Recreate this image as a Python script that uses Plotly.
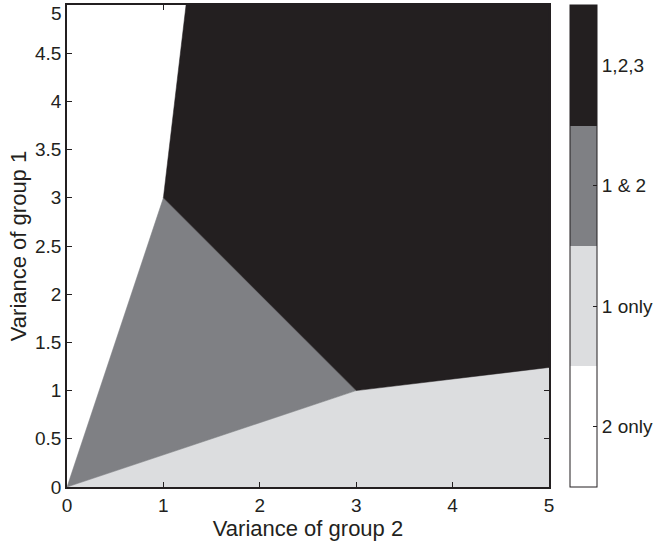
import plotly.graph_objects as go

# Region polygons (x = variance of group 2, y = variance of group 1)
white_x = [0, 1, 1.235, 0]
white_y = [0, 3, 5, 5]
lgray_x = [0, 5, 5, 3]
lgray_y = [0, 0, 1.24, 1]
mgray_x = [0, 3, 1]
mgray_y = [0, 1, 3]
black_x = [1, 3, 5, 5, 1.235]
black_y = [3, 1, 1.24, 5, 5]

labels = ["2 only", "1 only", "1 & 2", "1,2,3"]
colors = ["#ffffff", "#dcdddf", "#7f8084", "#231f20"]

x_ticks = [0, 1, 2, 3, 4, 5]
y_ticks = [0, 0.5, 1, 1.5, 2, 2.5, 3, 3.5, 4, 4.5, 5]
y_ticktext = ["0", "0.5", "1", "1.5", "2", "2.5", "3", "3.5", "4", "4.5", ""]
y_top_label = "5"

FONT = "Liberation Sans, Arial, sans-serif"
INK = "#231f20"

regions = [(white_x, white_y, colors[0]), (lgray_x, lgray_y, colors[1]),
           (mgray_x, mgray_y, colors[2]), (black_x, black_y, colors[3])]

fig = go.Figure()
for xs, ys, c in regions:
    fig.add_trace(go.Scatter(x=xs + [xs[0]], y=ys + [ys[0]], fill="toself", mode="lines",
                             line=dict(width=0.5, color=c), fillcolor=c,
                             hoverinfo="skip", showlegend=False))

cs = []
n = len(colors)
for i, c in enumerate(colors):
    cs.append([i / n, c])
    cs.append([(i + 1) / n, c])

cbar = dict(x=1.0437, xanchor="left", y=0.5, yanchor="middle",
            len=1.0, lenmode="fraction", thickness=27, ypad=0, xpad=0,
            outlinewidth=1, outlinecolor=INK,
            tickvals=[1, 2, 3, 4], ticktext=labels,
            ticks="inside", ticklen=4, tickcolor=INK,
            tickfont=dict(size=19, color=INK, family=FONT))

fig.add_trace(go.Scatter(
    x=[None], y=[None], mode="markers", showlegend=False, hoverinfo="skip",
    marker=dict(color=[1, 2, 3, 4], cmin=0.5, cmax=4.5, colorscale=cs,
                showscale=True, colorbar=cbar)))

axis_common = dict(showgrid=False, zeroline=False, showline=True, linecolor=INK,
                   linewidth=1.5, mirror="ticks", ticks="inside", ticklen=5,
                   tickcolor=INK, ticklabeloverflow="allow", automargin=False,
                   tickfont=dict(size=19, color=INK, family=FONT))

fig.update_xaxes(range=[0, 5], tickvals=x_ticks,
                 title=dict(text="Variance of group 2", standoff=0,
                            font=dict(size=22, color=INK, family=FONT)),
                 **axis_common)
fig.update_yaxes(range=[0, 5], tickvals=y_ticks, ticktext=y_ticktext,
                 title=dict(text="Variance of group 1", standoff=2,
                            font=dict(size=22, color=INK, family=FONT)),
                 **axis_common)

# top y tick label, nudged down so it stays inside the page (as in the reference)
fig.add_annotation(x=0, xref="paper", y=y_ticks[-1], yref="y", text=y_top_label,
                   showarrow=False, xanchor="right", yanchor="top", xshift=-3, yshift=4,
                   font=dict(size=19, color=INK, family=FONT))

fig.update_layout(width=656, height=541, margin=dict(l=67, r=107, t=5, b=54, autoexpand=False),
                  plot_bgcolor="white", paper_bgcolor="white")

fig.write_html("out.html")
